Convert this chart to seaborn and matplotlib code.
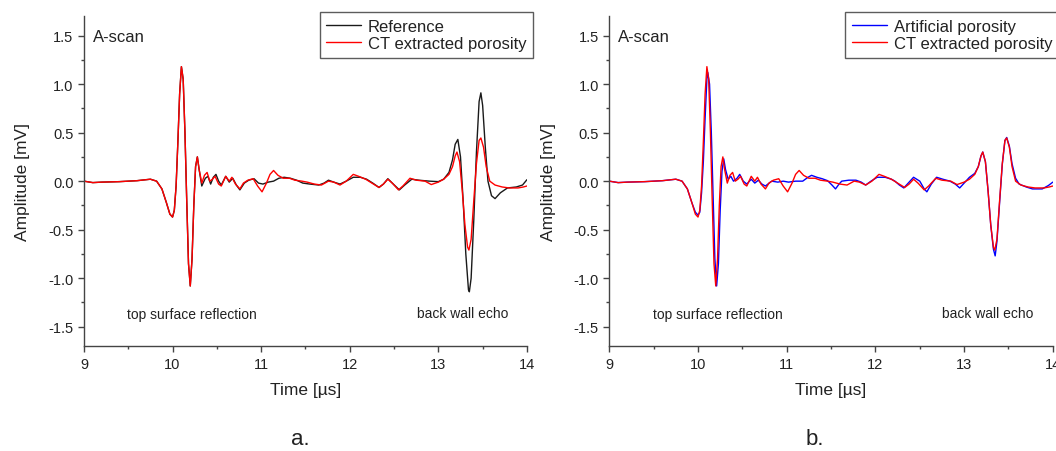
import matplotlib
matplotlib.use("Agg")
import matplotlib.pyplot as plt
from matplotlib.ticker import MultipleLocator
import seaborn as sns
import pandas as pd

# ------------------------------------------------------------
# 데이터
# ------------------------------------------------------------
ct_time = [9.00, 9.10, 9.20, 9.40, 9.60, 9.75, 9.82, 9.88, 9.93, 9.97, 10.00, 10.02,
           10.04, 10.06, 10.08, 10.10, 10.12, 10.14, 10.16, 10.18, 10.20, 10.22, 10.24,
           10.26, 10.28, 10.30, 10.33, 10.36, 10.39, 10.42, 10.45, 10.48, 10.52, 10.55,
           10.60, 10.64, 10.67, 10.71, 10.76, 10.80, 10.85, 10.91, 10.96, 11.01, 11.06,
           11.10, 11.14, 11.19, 11.25, 11.32, 11.38, 11.46, 11.52, 11.60, 11.68, 11.76,
           11.82, 11.89, 11.96, 12.04, 12.10, 12.18, 12.25, 12.33, 12.38, 12.43, 12.48,
           12.55, 12.60, 12.68, 12.75, 12.85, 12.92, 13.00, 13.06, 13.12, 13.16, 13.19,
           13.21, 13.24, 13.27, 13.30, 13.33, 13.345, 13.37, 13.40, 13.43, 13.46, 13.48,
           13.51, 13.54, 13.58, 13.64, 13.72, 13.80, 13.90, 13.96, 14.00]
ct_amp = [0.0, -0.015, -0.01, -0.005, 0.005, 0.02, 0.0, -0.08, -0.22, -0.34, -0.37, -0.30,
          -0.05, 0.40, 0.90, 1.18, 1.05, 0.50, -0.20, -0.85, -1.08, -0.80, -0.25,
          0.15, 0.25, 0.12, -0.02, 0.06, 0.09, 0.0, 0.02, 0.05, -0.03, -0.05,
          0.05, 0.0, 0.04, -0.03, -0.08, -0.02, 0.01, 0.025, -0.05, -0.11, -0.02,
          0.07, 0.11, 0.06, 0.03, 0.03, 0.01, 0.0, -0.01, -0.03, -0.04, 0.0,
          -0.01, -0.04, 0.0, 0.07, 0.05, 0.02, -0.02, -0.065, -0.03, 0.02, -0.02,
          -0.09, -0.05, 0.03, 0.01, 0.0, -0.035, -0.01, 0.02, 0.07, 0.15, 0.26,
          0.30, 0.20, -0.10, -0.45, -0.68, -0.71, -0.60, -0.20, 0.18, 0.42, 0.445,
          0.35, 0.15, 0.0, -0.04, -0.06, -0.07, -0.07, -0.06, -0.05]

ref_time = [9.00, 9.10, 9.20, 9.40, 9.60, 9.75, 9.82, 9.88, 9.93, 9.97, 10.00, 10.02,
            10.04, 10.06, 10.08, 10.10, 10.12, 10.14, 10.16, 10.18, 10.20, 10.22, 10.24,
            10.26, 10.28, 10.30, 10.33, 10.37, 10.40, 10.43, 10.46, 10.49, 10.52, 10.55,
            10.60, 10.64, 10.68, 10.72, 10.76, 10.81, 10.86, 10.92, 10.97, 11.02, 11.08,
            11.14, 11.20, 11.26, 11.33, 11.40, 11.47, 11.55, 11.65, 11.71, 11.76, 11.82,
            11.89, 11.96, 12.04, 12.12, 12.19, 12.26, 12.33, 12.38, 12.43, 12.48, 12.56,
            12.62, 12.70, 12.78, 12.90, 13.00, 13.06, 13.12, 13.16, 13.19, 13.22, 13.25,
            13.28, 13.31, 13.34, 13.35, 13.37, 13.40, 13.43, 13.46, 13.48, 13.50, 13.53,
            13.56, 13.60, 13.64, 13.70, 13.78, 13.88, 13.95, 14.00]
ref_amp = [0.0, -0.015, -0.01, -0.005, 0.005, 0.02, 0.0, -0.08, -0.22, -0.34, -0.37, -0.30,
           -0.05, 0.40, 0.90, 1.18, 1.05, 0.50, -0.20, -0.85, -1.08, -0.80, -0.25,
           0.15, 0.25, 0.12, -0.05, 0.03, 0.05, -0.03, 0.04, 0.07, 0.0, -0.04,
           0.05, -0.01, 0.03, -0.04, -0.09, -0.02, 0.01, 0.025, -0.02, -0.03, -0.01,
           0.0, 0.03, 0.04, 0.03, 0.01, -0.02, -0.03, -0.04, -0.02, 0.01, -0.01,
           -0.03, 0.0, 0.04, 0.04, 0.02, -0.02, -0.065, -0.03, 0.025, -0.02, -0.09,
           -0.04, 0.02, 0.01, 0.0, -0.005, 0.02, 0.09, 0.22, 0.38, 0.43, 0.25,
           -0.20, -0.75, -1.12, -1.14, -1.00, -0.40, 0.30, 0.82, 0.91, 0.78, 0.35,
           0.0, -0.15, -0.18, -0.12, -0.07, -0.06, -0.04, 0.015]

art_time = [9.00, 9.10, 9.20, 9.40, 9.60, 9.75, 9.82, 9.88, 9.93, 9.97, 10.00, 10.02,
            10.04, 10.06, 10.08, 10.10, 10.11, 10.13, 10.15, 10.17, 10.19, 10.21, 10.23,
            10.25, 10.27, 10.29, 10.31, 10.34, 10.37, 10.40, 10.44, 10.47, 10.51, 10.55,
            10.60, 10.64, 10.68, 10.72, 10.76, 10.83, 10.90, 10.96, 11.02, 11.10, 11.18,
            11.24, 11.28, 11.34, 11.40, 11.46, 11.51, 11.55, 11.59, 11.62, 11.70, 11.78,
            11.84, 11.89, 11.95, 12.02, 12.11, 12.18, 12.22, 12.27, 12.32, 12.37, 12.43,
            12.50, 12.55, 12.58, 12.63, 12.69, 12.76, 12.84, 12.90, 12.95, 13.00, 13.06,
            13.12, 13.16, 13.19, 13.21, 13.24, 13.27, 13.30, 13.33, 13.35, 13.37, 13.40,
            13.43, 13.46, 13.48, 13.51, 13.54, 13.58, 13.62, 13.70, 13.77, 13.88, 13.95,
            14.00]
art_amp = [0.0, -0.015, -0.01, -0.005, 0.005, 0.02, 0.0, -0.08, -0.22, -0.32, -0.35, -0.32,
           -0.12, 0.20, 0.65, 1.05, 1.12, 1.00, 0.50, -0.15, -0.80, -1.08, -0.85,
           -0.30, 0.10, 0.23, 0.12, 0.02, 0.05, 0.0, 0.03, 0.07, 0.0, -0.03,
           0.02, -0.02, 0.01, -0.03, -0.05, 0.0, -0.01, 0.0, -0.01, 0.0, 0.0,
           0.04, 0.06, 0.04, 0.025, 0.005, -0.04, -0.08, -0.03, 0.0, 0.01, 0.01,
           -0.01, -0.04, 0.0, 0.04, 0.04, 0.02, 0.0, -0.04, -0.07, -0.02, 0.04,
           0.0, -0.08, -0.11, -0.03, 0.04, 0.02, 0.0, -0.03, -0.07, -0.02, 0.04,
           0.08, 0.15, 0.26, 0.30, 0.20, -0.10, -0.45, -0.70, -0.77, -0.62, -0.22,
           0.17, 0.42, 0.45, 0.36, 0.18, 0.03, -0.03, -0.06, -0.08, -0.08, -0.045,
           -0.01]

x_ticks = [9, 10, 11, 12, 13, 14]
y_ticks = [-1.5, -1.0, -0.5, 0.0, 0.5, 1.0, 1.5]

ref_df = pd.DataFrame({"t": ref_time, "amp": ref_amp})
ct_df = pd.DataFrame({"t": ct_time, "amp": ct_amp})
art_df = pd.DataFrame({"t": art_time, "amp": art_amp})

# ------------------------------------------------------------
# 스타일
# ------------------------------------------------------------
sns.set_style("ticks")
plt.rcParams["font.family"] = ["Liberation Sans", "DejaVu Sans"]
plt.rcParams["axes.linewidth"] = 1.0
plt.rcParams["xtick.direction"] = "out"
plt.rcParams["ytick.direction"] = "out"

TEXT = "#222222"

fig = plt.figure(figsize=(10.56, 4.52), dpi=100)
ax_a = fig.add_axes([0.0795, 0.232, 0.4195, 0.730])
ax_b = fig.add_axes([0.577, 0.232, 0.420, 0.730])


def style_axes(ax):
    ax.set_xlim(9, 14)
    ax.set_ylim(-1.7, 1.7)
    ax.set_xticks(x_ticks)
    ax.set_yticks(y_ticks)
    ax.set_yticklabels([f"{v:.1f}" for v in y_ticks])
    ax.xaxis.set_minor_locator(MultipleLocator(0.5))
    ax.yaxis.set_minor_locator(MultipleLocator(0.25))
    ax.tick_params(which="major", length=4, width=1, colors="#444444",
                   labelsize=10.5, labelcolor=TEXT)
    ax.tick_params(which="minor", length=2.5, width=1, colors="#444444")
    for side in ["top", "right"]:
        ax.spines[side].set_visible(False)
    for side in ["left", "bottom"]:
        ax.spines[side].set_color("#444444")
    ax.set_xlabel("Time [µs]", fontsize=12.5, color=TEXT, labelpad=8)
    ax.set_ylabel("Amplitude [mV]", fontsize=12.5, color=TEXT, labelpad=13)
    ax.text(9.1, 1.49, "A-scan", fontsize=12, color=TEXT, va="center", ha="left")
    ax.text(10.22, -1.37, "top surface reflection", fontsize=10, color=TEXT,
            ha="center", va="center")
    ax.text(13.27, -1.36, "back wall echo", fontsize=10, color=TEXT,
            ha="center", va="center")


# a. Reference vs CT extracted porosity
sns.lineplot(data=ref_df, x="t", y="amp", ax=ax_a, color="#1a1a1a", lw=1.0,
             label="Reference", estimator=None)
sns.lineplot(data=ct_df, x="t", y="amp", ax=ax_a, color="#ff0000", lw=1.0,
             label="CT extracted porosity", estimator=None)

# b. Artificial porosity vs CT extracted porosity
sns.lineplot(data=art_df, x="t", y="amp", ax=ax_b, color="#0000ff", lw=1.0,
             label="Artificial porosity", estimator=None)
sns.lineplot(data=ct_df, x="t", y="amp", ax=ax_b, color="#ff0000", lw=1.0,
             label="CT extracted porosity", estimator=None)

for ax in (ax_a, ax_b):
    style_axes(ax)
    leg = ax.legend(loc="upper left", bbox_to_anchor=(0.532, 1.012), fontsize=12,
                    frameon=True, fancybox=False, borderpad=0.4, handlelength=2.1,
                    handletextpad=0.4, labelspacing=0.12, borderaxespad=0.0)
    leg.get_frame().set_edgecolor("#333333")
    leg.get_frame().set_linewidth(1.0)
    for t in leg.get_texts():
        t.set_color(TEXT)

fig.text(300 / 1056, 1 - 440 / 452, "a.", fontsize=16, color=TEXT, ha="center", va="center")
fig.text(815 / 1056, 1 - 440 / 452, "b.", fontsize=16, color=TEXT, ha="center", va="center")

fig.savefig("out.png", dpi=100)
